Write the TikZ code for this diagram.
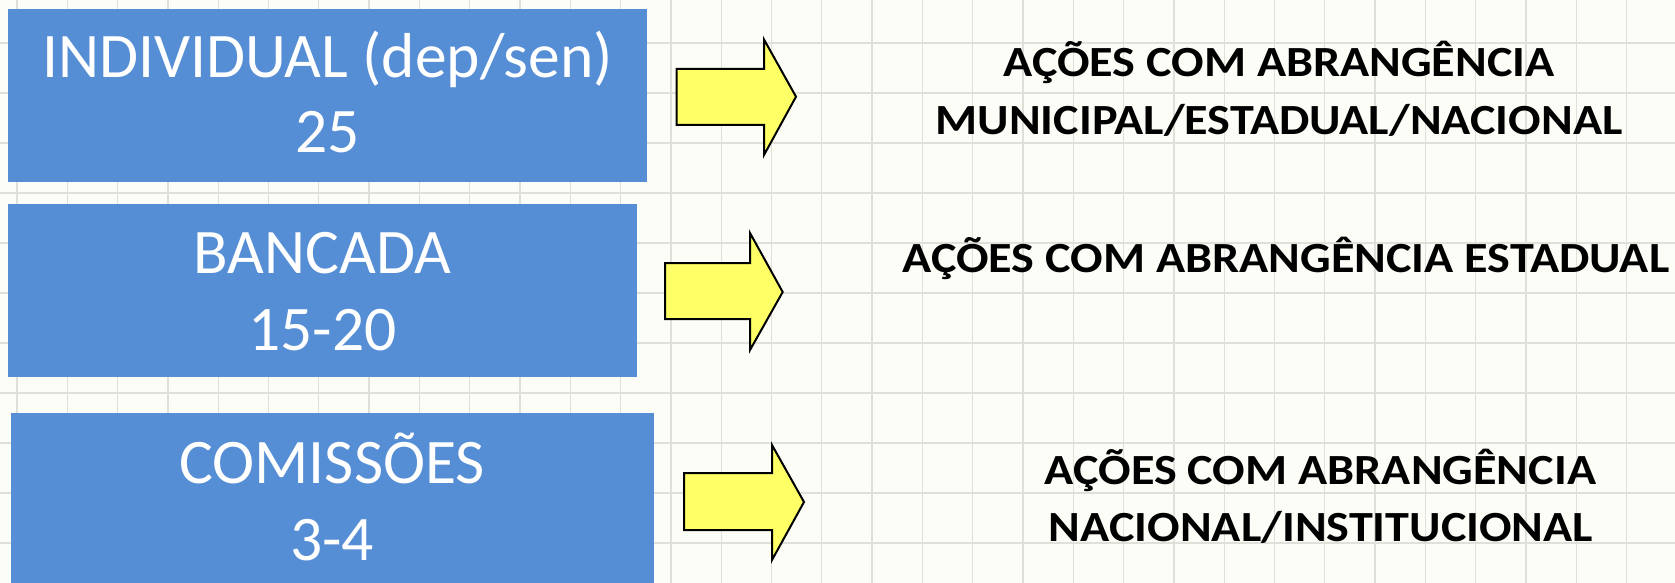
\documentclass[tikz,border=0pt]{standalone}
\usepackage{fontspec}
\setmainfont{Carlito}
\definecolor{bg}{HTML}{FDFDF8}
\definecolor{gridc}{HTML}{E0E0DB}
\definecolor{boxblue}{HTML}{558ED5}
\definecolor{arrowy}{HTML}{FFFF66}
\newcommand{\widetxt}[1]{\scalebox{1.12}[1]{#1}}
\tikzset{
  boxshape/.style={fill=boxblue, draw=none, inner sep=0pt, anchor=north west},
  boxtext/.style={text=white, font=\fontsize{63.5}{75}\selectfont, anchor=base, inner sep=0pt},
  acttext/.style={text=black, font=\bfseries\fontsize{43}{58}\selectfont, anchor=base, inner sep=0pt},
  blockarrow/.style={fill=arrowy, draw=black, line width=2pt, line join=miter},
  gridline/.style={draw=gridc, line width=1.3pt}
}
\begin{document}
\begin{tikzpicture}[x=1pt, y=-1pt]
\useasboundingbox (0,0) rectangle (1675,583);
\fill[bg] (0,0) rectangle (1675,583);
% grid
\foreach \k in {0,...,32} {
  \draw[gridline] ({17+50.3*\k},0) -- ({17+50.3*\k},583);
}
\foreach \k in {0,...,10} {
  \draw[gridline] (0,{43+50*\k}) -- (1675,{43+50*\k});
}
% boxes
\node[boxshape, minimum width=639pt, minimum height=173pt] (b1) at (8,9) {};
\node[boxshape, minimum width=629pt, minimum height=173pt] (b2) at (8,204) {};
\node[boxshape, minimum width=643pt, minimum height=175pt] (b3) at (10.5,413) {};
% box texts
\node[boxtext] (t1a) at (327.5,78) {INDIVIDUAL (dep/sen)};
\node[boxtext] (t1b) at (327.5,153) {25};
\node[boxtext] (t2a) at (322.5,273) {BANCADA};
\node[boxtext] (t2b) at (322.5,350) {15-20};
\node[boxtext] (t3a) at (332,483) {COMISSÕES};
\node[boxtext] (t3b) at (332,560) {3-4};
% block arrows
\draw[blockarrow] (676.7,69) -- (764,69) -- (764,39.5) -- (796,96.7) -- (764,155) -- (764,125) -- (676.7,125) -- cycle;
\draw[blockarrow] (665,263) -- (750,263) -- (750,233) -- (782.7,292) -- (750,350) -- (750,319) -- (665,319) -- cycle;
\draw[blockarrow] (684,473) -- (772,473) -- (772,445) -- (804,502) -- (772,560) -- (772,530) -- (684,530) -- cycle;
% action texts
\node[acttext] (a1a) at (1279,77) {\widetxt{AÇÕES COM ABRANGÊNCIA}};
\node[acttext] (a1b) at (1279,135) {\widetxt{MUNICIPAL/ESTADUAL/NACIONAL}};
\node[acttext] (a2) at (1286,272) {\widetxt{AÇÕES COM ABRANGÊNCIA ESTADUAL}};
\node[acttext] (a3a) at (1320.5,484) {\widetxt{AÇÕES COM ABRANGÊNCIA}};
\node[acttext] (a3b) at (1321,541) {\widetxt{NACIONAL/INSTITUCIONAL}};
\end{tikzpicture}
\end{document}
